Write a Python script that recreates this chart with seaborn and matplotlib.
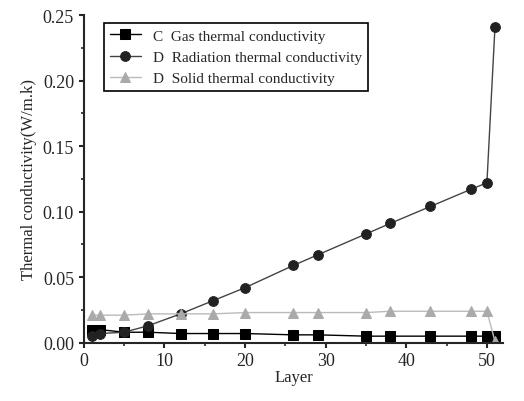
import matplotlib
matplotlib.use("Agg")
import matplotlib.pyplot as plt
import seaborn as sns
import pandas as pd
from matplotlib.ticker import MultipleLocator

layers = [1, 2, 5, 8, 12, 16, 20, 26, 29, 35, 38, 43, 48, 50, 51]
gas = [0.010, 0.010, 0.008, 0.008, 0.007, 0.007, 0.007, 0.006, 0.006, 0.005, 0.005, 0.005, 0.005, 0.005, 0.005]
radiation = [0.005, 0.007, 0.008, 0.013, 0.022, 0.032, 0.042, 0.059, 0.067, 0.083, 0.091, 0.104, 0.117, 0.122, 0.241]
solid = [0.021, 0.021, 0.021, 0.022, 0.022, 0.022, 0.023, 0.023, 0.023, 0.023, 0.024, 0.024, 0.024, 0.024, 0.001]
labels = ["C  Gas thermal conductivity", "D  Radiation thermal conductivity", "D  Solid thermal conductivity"]

sns.set_style("ticks")
plt.rcParams['font.family'] = ['Liberation Serif', 'DejaVu Serif']

fig, ax = plt.subplots(figsize=(5.24, 4.02), dpi=100)
fig.subplots_adjust(left=0.16, right=0.96, top=0.96, bottom=0.145)

styles = [(gas, "s", "black", "black"), (radiation, "o", "#222222", "#444444"), (solid, "^", "#aaaaaa", "#bbbbbb")]
for (vals, m, mc, lc), lab in zip(styles, labels):
    df = pd.DataFrame({"Layer": layers, "v": vals})
    sns.lineplot(data=df, x="Layer", y="v", ax=ax, marker=m, markersize=7, color=lc,
                 markerfacecolor=mc, markeredgecolor=mc, linewidth=1, label=lab)

ax.set_xlim(0, 52)
ax.set_ylim(0, 0.25)
ax.xaxis.set_major_locator(MultipleLocator(10))
ax.xaxis.set_minor_locator(MultipleLocator(5))
ax.yaxis.set_major_locator(MultipleLocator(0.05))
ax.yaxis.set_minor_locator(MultipleLocator(0.025))
ax.yaxis.set_major_formatter(matplotlib.ticker.FormatStrFormatter('%.2f'))
ax.tick_params(labelsize=13, width=1.5)
ax.tick_params(which='minor', width=1.2)
for s in ["left", "bottom"]:
    ax.spines[s].set_linewidth(1.5)
sns.despine(ax=ax)
ax.set_xlabel("Layer", fontsize=12, labelpad=0)
ax.set_ylabel("Thermal conductivity(W/m.k)", fontsize=12)
leg = ax.legend(loc="upper left", bbox_to_anchor=(0.03, 1.0), fontsize=11, fancybox=False,
                edgecolor="black", framealpha=1)
leg.get_frame().set_linewidth(1.2)
fig.savefig("out.png")
